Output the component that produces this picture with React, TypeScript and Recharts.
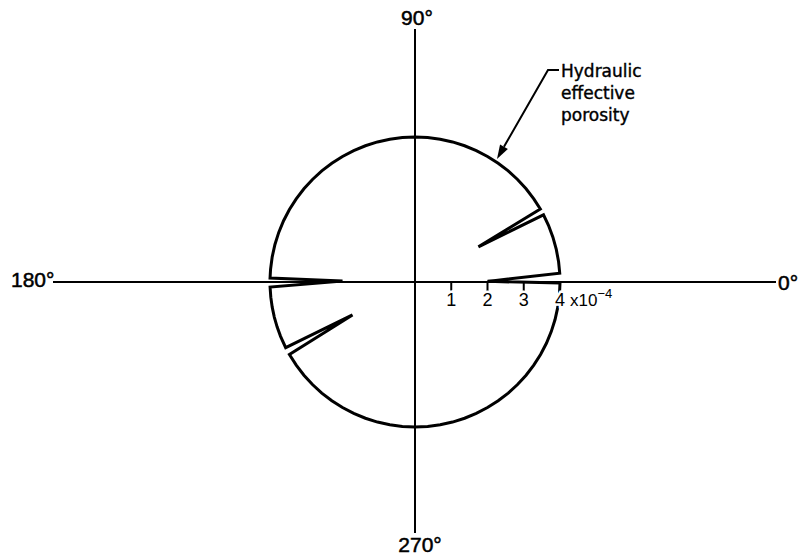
import React from 'react';
import { RadarChart, Radar, PolarAngleAxis, PolarRadiusAxis } from 'recharts';

// direction (degrees, counter-clockwise from east) and porosity (x10^-4)
const angles = [
  0.5,
  3.5, 8, 13, 18, 23, 27.6,
  29,
  30.2, 35, 40, 45, 50, 55, 60, 65, 70, 75, 80, 85, 90, 95, 100, 105, 110, 115, 120, 125, 130, 135, 140, 145, 150, 155, 160, 165, 170, 175, 178.4,
  179.3,
  182, 186, 190, 194, 198, 202, 206.9,
  207.8,
  210, 215, 220, 225, 230, 235, 240, 245, 250, 255, 260, 265, 270, 275, 280, 285, 290, 295, 300, 305, 310, 315, 320, 325, 330, 335, 340, 345, 350, 355, 359.6,
];
const porosity = [
  2.0,
  4, 4, 4, 4, 4, 4,
  2.0,
  4, 4, 4, 4, 4, 4, 4, 4, 4, 4, 4, 4, 4, 4, 4, 4, 4, 4, 4, 4, 4, 4, 4, 4, 4, 4, 4, 4, 4, 4, 4,
  2.0,
  4, 4, 4, 4, 4, 4, 4,
  1.95,
  4, 4, 4, 4, 4, 4, 4, 4, 4, 4, 4, 4, 4, 4, 4, 4, 4, 4, 4, 4, 4, 4, 4, 4, 4, 4, 4, 4, 4, 4, 4,
];
const scaleTicks = [1, 2, 3, 4];
const calloutLines = ['Hydraulic', 'effective', 'porosity'];

const data = angles.map((a, i) => ({ angle: a, porosity: porosity[i] }));

const CX = 415;
const CY = 282;
const R = 145;
const font = '"Liberation Sans", Arial, sans-serif';

const ScaleTick = (props: any) => {
  const { x, y, payload } = props;
  return (
    <g>
      <line x1={x} y1={y} x2={x} y2={y + 11} stroke="#000" strokeWidth={2} />
      <text x={x} y={y + 24} textAnchor="middle" fontSize={18} fontFamily={font} fill="#000"
        stroke="#fff" strokeWidth={5} paintOrder="stroke">
        {payload.value}
      </text>
      {payload.value === 4 && (
        <text x={x + 10} y={y + 24} fontSize={17} fontFamily={font} fill="#000"
          stroke="#fff" strokeWidth={5} paintOrder="stroke">
          x10<tspan dy={-8} fontSize={13}>−4</tspan>
        </text>
      )}
    </g>
  );
};

// leader arrow from the callout to the curve
const tip = { x: 497, y: 159 };
const bend = { x: 548, y: 70 };
const len = Math.hypot(tip.x - bend.x, tip.y - bend.y);
const ux = (tip.x - bend.x) / len;
const uy = (tip.y - bend.y) / len;
const bx = tip.x - ux * 14;
const by = tip.y - uy * 14;
const head = `${tip.x},${tip.y} ${bx - uy * 4.5},${by + ux * 4.5} ${bx + uy * 4.5},${by - ux * 4.5}`;

const labelStyle = { fontFamily: font, fontSize: 21, stroke: '#000', strokeWidth: 0.5 };

export default function App() {
  return (
    <div style={{ position: 'absolute', left: 0, top: 0, width: 805, height: 560, background: '#fff' }}>
      <RadarChart width={805} height={560} data={data} cx={CX} cy={CY} outerRadius={R}
        startAngle={0} endAngle={360} margin={{ top: 0, right: 0, bottom: 0, left: 0 }}>
        <line x1={53} y1={CY} x2={776} y2={CY} stroke="#000" strokeWidth={2} />
        <line x1={CX} y1={29} x2={CX} y2={533} stroke="#000" strokeWidth={2} />
        <PolarAngleAxis dataKey="angle" type="number" domain={[0, 360]} tick={false} axisLine={false} />
        <Radar dataKey="porosity" stroke="#000" strokeWidth={3} fill="none" fillOpacity={0}
          dot={false} isAnimationActive={false} />
        <PolarRadiusAxis domain={[0, 4]} angle={0} ticks={scaleTicks} tick={ScaleTick}
          axisLine={false} allowDataOverflow />
        <text x={417} y={25} textAnchor="middle" style={labelStyle}>90°</text>
        <text x={420} y={552} textAnchor="middle" style={labelStyle}>270°</text>
        <text x={11} y={287} style={labelStyle}>180°</text>
        <text x={778} y={290} style={labelStyle}>0°</text>
        {calloutLines.map((t, i) => (
          <text key={t} x={561} y={77 + i * 22} fontSize={17} stroke="#000" strokeWidth={0.4}
            fontFamily='"DejaVu Sans", sans-serif'>{t}</text>
        ))}
        <polyline points={`559,70 ${bend.x},${bend.y} ${bx},${by}`} fill="none" stroke="#000" strokeWidth={2} />
        <polygon points={head} fill="#000" />
      </RadarChart>
    </div>
  );
}
